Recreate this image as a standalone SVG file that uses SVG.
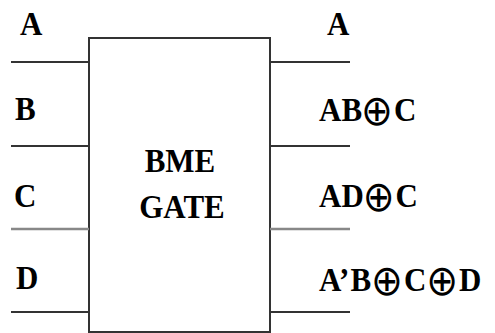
<svg xmlns="http://www.w3.org/2000/svg" width="495" height="333" viewBox="0 0 495 333">
<style>
.t{font-family:"Liberation Serif","Times New Roman",serif;font-weight:bold;font-size:31px;fill:#000}
.x{font-family:"DejaVu Sans",sans-serif;font-weight:normal;font-size:38px}
.w{stroke:#333;stroke-width:2;fill:none}
.g{stroke:#888;stroke-width:2.5;fill:none}
</style>
<rect width="495" height="333" fill="#fff"/>
<g id="gate">
<rect x="89" y="38" width="181" height="294" fill="#fff" stroke="#333" stroke-width="2"/>
<text class="t" text-anchor="middle" transform="translate(180,172) scale(1,1.12)">BME</text>
<text class="t" text-anchor="middle" transform="translate(182,218) scale(1,1.12)">GATE</text>
</g>
<g id="connectors">
<line class="w" x1="11" y1="62" x2="89" y2="62"/>
<line class="w" x1="11" y1="146" x2="89" y2="146"/>
<line class="g" x1="11" y1="229" x2="89" y2="229"/>
<line class="w" x1="11" y1="312" x2="89" y2="312"/>
<line class="w" x1="270" y1="62" x2="350" y2="62"/>
<line class="w" x1="270" y1="146" x2="350" y2="146"/>
<line class="g" x1="270" y1="229" x2="350" y2="229"/>
<line class="w" x1="270" y1="312" x2="350" y2="312"/>
</g>
<g id="in-a"><text class="t" transform="translate(20,35) scale(1,1.12)">A</text></g>
<g id="in-b"><text class="t" transform="translate(15,120) scale(1,1.12)">B</text></g>
<g id="in-c"><text class="t" transform="translate(14,207) scale(1,1.12)">C</text></g>
<g id="in-d"><text class="t" transform="translate(16,289) scale(1,1.12)">D</text></g>
<g id="out-p"><text class="t" transform="translate(327,35) scale(1,1.12)">A</text></g>
<g id="out-q"><text class="t" transform="translate(319,121) scale(1,1.12)">AB<tspan class="x" dx="-1" dy="4">⊕</tspan><tspan dx="1" dy="-4">C</tspan></text></g>
<g id="out-r"><text class="t" transform="translate(319,207) scale(1,1.12)">AD<tspan class="x" dx="-1" dy="4">⊕</tspan><tspan dx="1" dy="-4">C</tspan></text></g>
<g id="out-s"><text class="t" transform="translate(319,291) scale(1,1.12)">A’<tspan dx="1">B</tspan><tspan class="x" dx="0" dy="4">⊕</tspan><tspan dx="1" dy="-4">C</tspan><tspan class="x" dx="0" dy="4">⊕</tspan><tspan dx="1" dy="-4">D</tspan></text></g>
</svg>
